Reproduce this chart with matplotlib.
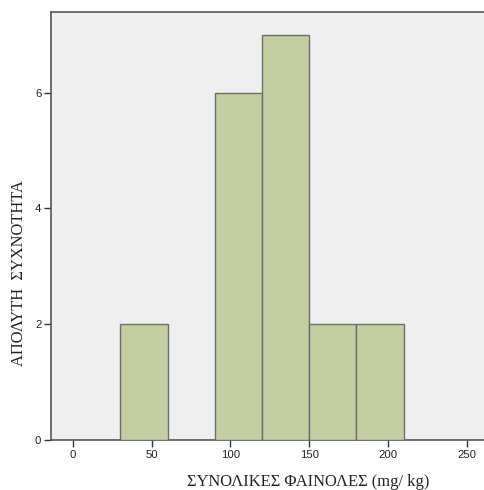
import matplotlib
matplotlib.use("Agg")
import matplotlib.pyplot as plt

# Histogram of total phenols (mg/kg)
bin_edges = [30, 60, 90, 120, 150, 180, 210]
counts = [2, 0, 6, 7, 2, 2]
x_ticks = [0, 50, 100, 150, 200, 250]
y_ticks = [0, 2, 4, 6]
x_label = "ΣΥΝΟΛΙΚΕΣ ΦΑΙΝΟΛΕΣ (mg/ kg)"
y_label = "ΑΠΟΛΥΤΗ  ΣΥΧΝΟΤΗΤΑ"

W, H = 484, 490
fig = plt.figure(figsize=(W / 100, H / 100), dpi=100)
ax = fig.add_axes([51 / W, 50 / H, 1 - 51 / W, 428 / H])
ax.set_facecolor("#efefef")

lefts = [bin_edges[i] for i in range(len(counts)) if counts[i] > 0]
widths = [bin_edges[i + 1] - bin_edges[i] for i in range(len(counts)) if counts[i] > 0]
heights = [c for c in counts if c > 0]
ax.bar(lefts, heights, width=widths, align="edge", color="#c3cfa1",
       edgecolor="#6e6e6e", linewidth=1.0, zorder=3)

ax.set_xlim(-14, 261)
ax.set_ylim(0, 7.39)
ax.set_xticks(x_ticks)
ax.set_yticks(y_ticks)

for side in ("left", "top", "bottom"):
    ax.spines[side].set_color("#555555")
    ax.spines[side].set_linewidth(1.2)
ax.spines["right"].set_visible(False)

ax.tick_params(axis="both", direction="out", length=5, width=1.0,
               color="#333333", labelcolor="#222222", labelsize=8.2, pad=2)
for lbl in ax.get_xticklabels() + ax.get_yticklabels():
    lbl.set_family(["Liberation Sans", "DejaVu Sans"])

serif = ["Liberation Serif", "DejaVu Serif"]
fig.text(308 / W, 4 / H, x_label, family=serif, fontsize=11.9,
         color="#222222", ha="center", va="baseline")
fig.text(19 / W, 1 - 273 / H, y_label, family=serif, fontsize=11.9,
         color="#222222", ha="center", va="center", rotation=90)

fig.savefig("out.png", dpi=100, facecolor="white")
